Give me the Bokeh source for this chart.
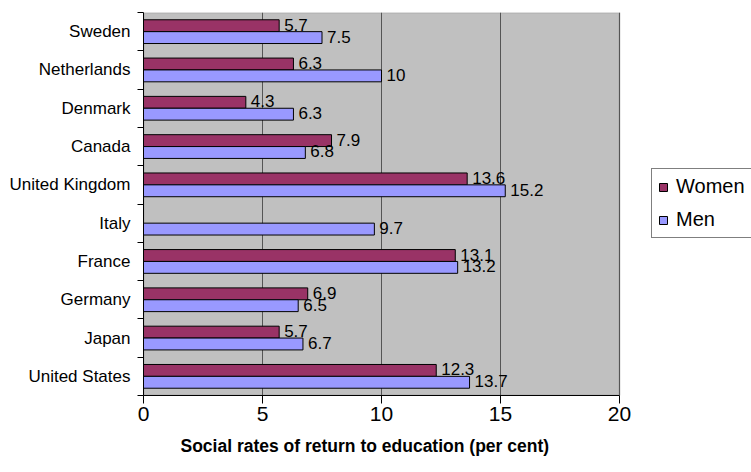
from bokeh.plotting import figure
from bokeh.models import (ColumnDataSource, FixedTicker, Legend, LegendItem, Range1d,
                          BoxAnnotation, Title)
from bokeh.core.properties import value
from bokeh.embed import file_html
from bokeh.resources import INLINE
import math

countries = ["Sweden", "Netherlands", "Denmark", "Canada", "United Kingdom",
             "Italy", "France", "Germany", "Japan", "United States"]
women = [5.7, 6.3, 4.3, 7.9, 13.6, float("nan"), 13.1, 6.9, 5.7, 12.3]
men = [7.5, 10, 6.3, 6.8, 15.2, 9.7, 13.2, 6.5, 6.7, 13.7]
x_ticks = [0, 5, 10, 15, 20]
x_label = "Social rates of return to education (per cent)"

FONT = "Liberation Sans"
n = len(countries)
pos = [n - 1 - i for i in range(n)]  # Sweden on top

X_MIN, X_MAX = x_ticks[0], x_ticks[-1]
LEFT, RIGHT_EDGE, W, H = 143, 619, 751, 472
TOP, FRAME_H = 12, 383
x_end = X_MAX * (W - LEFT) / (RIGHT_EDGE - LEFT)  # frame spans to canvas edge; axis ends at 20

def fmt(v):
    return "%g" % v

w_src = ColumnDataSource(dict(
    y=[p + 0.155 for p, v in zip(pos, women) if not math.isnan(v)],
    v=[v for v in women if not math.isnan(v)],
    lab=[fmt(v) for v in women if not math.isnan(v)]))
m_src = ColumnDataSource(dict(
    y=[p - 0.155 for p in pos], v=men, lab=[fmt(v) for v in men]))

p = figure(width=W, height=H, output_backend="svg",
           toolbar_location=None,
           x_range=Range1d(X_MIN, x_end), y_range=Range1d(-0.5, n - 0.5),
           min_border_left=LEFT, min_border_right=0, min_border_top=TOP,
           min_border_bottom=H - TOP - FRAME_H)
p.background_fill_color = "white"
p.border_fill_color = "white"
p.outline_line_color = None

# plot area (grey) spanning the axis range 0..20
plot_area = BoxAnnotation(left=X_MIN, right=X_MAX, fill_color="#C0C0C0", fill_alpha=1,
                          line_color="#808080", line_width=2, level="image")
p.add_layout(plot_area)

rw = p.hbar(y="y", right="v", left=0, height=0.31, source=w_src,
            fill_color="#993366", line_color="black", line_width=1)
rm = p.hbar(y="y", right="v", left=0, height=0.31, source=m_src,
            fill_color="#9999FF", line_color="black", line_width=1)

for src in (w_src, m_src):
    p.text(x="v", y="y", text="lab", source=src, x_offset=5, y_offset=-1,
           text_baseline="middle", text_align="left", text_color="black",
           text_font=value(FONT), text_font_size=value("17px"))

# x axis
p.xaxis.ticker = FixedTicker(ticks=x_ticks)
p.xaxis.bounds = (X_MIN, X_MAX)
p.xaxis.major_tick_out = 8
p.xaxis.major_tick_in = 0
p.xaxis.minor_tick_out = 0
p.xaxis.minor_tick_in = 0
p.xaxis.axis_line_color = "black"
p.xaxis.major_tick_line_color = "black"
p.xaxis.major_label_text_font = FONT
p.xaxis.major_label_text_font_size = "21px"
p.xaxis.major_label_text_color = "black"
p.xaxis.major_label_standoff = 3

xt = Title(text=x_label, align="left", offset=37, text_font=FONT,
           text_font_size="17.5px", text_font_style="bold", text_color="black",
           standoff=20)
p.add_layout(xt, "below")

# y axis
p.yaxis.ticker = FixedTicker(ticks=pos, minor_ticks=[k - 0.5 for k in range(n + 1)])
p.yaxis.major_label_overrides = {pp: c for pp, c in zip(pos, countries)}
p.yaxis.major_tick_out = 0
p.yaxis.major_tick_in = 0
p.yaxis.minor_tick_out = 6
p.yaxis.minor_tick_in = 0
p.yaxis.minor_tick_line_color = "black"
p.yaxis.axis_line_color = "black"
p.yaxis.major_label_text_font = FONT
p.yaxis.major_label_text_font_size = "17px"
p.yaxis.major_label_text_color = "black"
p.yaxis.major_label_standoff = 7

p.xgrid.ticker = FixedTicker(ticks=x_ticks)
p.xgrid.grid_line_color = "#555555"
p.xgrid.grid_line_width = 1
p.ygrid.grid_line_color = None

legend = Legend(items=[LegendItem(label="Women", renderers=[rw]),
                       LegendItem(label="Men", renderers=[rm])],
                location=(508, 157), orientation="vertical")
legend.border_line_color = "black"
legend.border_line_width = 1
legend.background_fill_color = "white"
legend.background_fill_alpha = 1
legend.label_text_font = FONT
legend.label_text_font_size = "20px"
legend.label_text_color = "black"
legend.glyph_width = 10
legend.glyph_height = 10
legend.label_height = 20
legend.label_standoff = 8
legend.spacing = 10
legend.padding = 6
legend.margin = 0
p.add_layout(legend, "center")

open("out.html", "w").write(file_html(p, INLINE))
